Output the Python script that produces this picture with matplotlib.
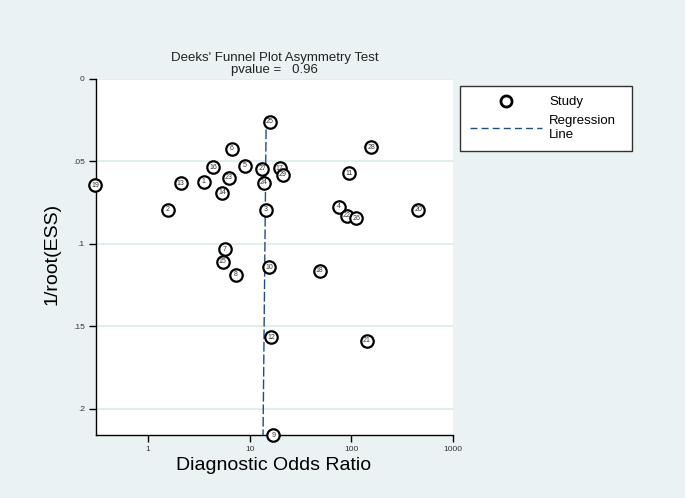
import matplotlib
matplotlib.use("Agg")
import matplotlib.pyplot as plt
from matplotlib.lines import Line2D

plt.rcParams['font.family'] = ['Liberation Sans', 'DejaVu Sans']

# study id, diagnostic odds ratio, 1/root(ESS)
study_ids = [1, 2, 3, 4, 5, 6, 7, 8, 9, 10,
             11, 12, 13, 14, 15, 16, 17, 18, 19, 20,
             21, 22, 23, 24, 25, 26, 27, 28, 29]
dor = [3.53, 1.56, 14.4, 76.0, 8.93, 6.65, 5.69, 7.28, 17.1, 15.6,
       94.0, 16.3, 2.08, 5.33, 5.39, 4.33, 19.7, 48.8, 0.30, 454.0,
       142.0, 90.5, 6.22, 13.8, 15.7, 112.0, 13.2, 157.0, 21.2]
inv_root_ess = [0.0624, 0.0794, 0.0794, 0.0774, 0.0527, 0.0424, 0.1032, 0.1188, 0.2158, 0.1141,
                0.0572, 0.1566, 0.0632, 0.0691, 0.1107, 0.0535, 0.0541, 0.1162, 0.0645, 0.0794,
                0.1586, 0.0830, 0.0600, 0.0628, 0.0259, 0.0844, 0.0545, 0.0414, 0.0582]

# regression line end points
reg_x = [14.5, 13.5]
reg_y = [0.023, 0.2158]

xticks = [1, 10, 100, 1000]
xticklabels = ["1", "10", "100", "1000"]
yticks = [0, 0.05, 0.1, 0.15, 0.2]
yticklabels = ["0", ".05", ".1", ".15", ".2"]

bg = "#eaf2f3"
line_col = "#1f4e86"

fig = plt.figure(figsize=(6.85, 4.98), dpi=100, facecolor=bg)
ax = fig.add_axes([0.1401, 0.1265, 0.5212, 0.7149])
ax.set_facecolor("white")

ax.plot(reg_x, reg_y, color=line_col, lw=1.0, ls=(0, (7, 2)), zorder=2)
ax.scatter(dor, inv_root_ess, s=80, facecolor="white", edgecolor="black",
           linewidths=1.6, zorder=3, clip_on=False)
for sid, x, y in zip(study_ids, dor, inv_root_ess):
    ax.text(x, y, str(sid), ha="center", va="center", fontsize=5,
            color="#333333", zorder=4, clip_on=False)

ax.set_xscale("log")
ax.set_xlim(0.306, 1000)
ax.set_ylim(0.2158, 0)
ax.set_xticks(xticks)
ax.set_xticklabels(xticklabels)
ax.minorticks_off()
ax.set_yticks(yticks)
ax.set_yticklabels(yticklabels)
ax.tick_params(axis="both", direction="out", length=5, width=1, labelsize=6,
               labelcolor="#333333", pad=3)
ax.grid(axis="y", color="#e3ecef", lw=1.5)
ax.set_axisbelow(True)
for side in ["top", "right"]:
    ax.spines[side].set_visible(False)
for side in ["left", "bottom"]:
    ax.spines[side].set_linewidth(1.0)

ax.set_title("Deeks' Funnel Plot Asymmetry Test\npvalue =   0.96",
             fontsize=9.5, linespacing=1.1, pad=4, color="#222222")
fig.text(274 / 685, 1 - 465 / 498, "Diagnostic Odds Ratio", ha="center",
         va="center", fontsize=14)
fig.text(52 / 685, 1 - 254 / 498, "1/root(ESS)", ha="center", va="center",
         rotation=90, fontsize=14)

handles = [
    Line2D([], [], ls="none", marker="o", ms=8, mfc="white", mec="black", mew=2),
    Line2D([], [], color=line_col, lw=1.0, ls=(0, (5, 3))),
]
leg = fig.legend(handles, ["Study", "Regression\nLine"],
                 bbox_to_anchor=(0.6715, 0.6988, 0.251, 0.1285), loc="upper left",
                 mode="expand", borderaxespad=0, fancybox=False, fontsize=9.5,
                 handlelength=5.5, handletextpad=0.5, borderpad=0.75,
                 labelspacing=0.55, framealpha=1)
leg.get_frame().set_edgecolor("#333333")
leg.get_frame().set_linewidth(1.0)

fig.savefig("out.png", dpi=100, facecolor=bg)
